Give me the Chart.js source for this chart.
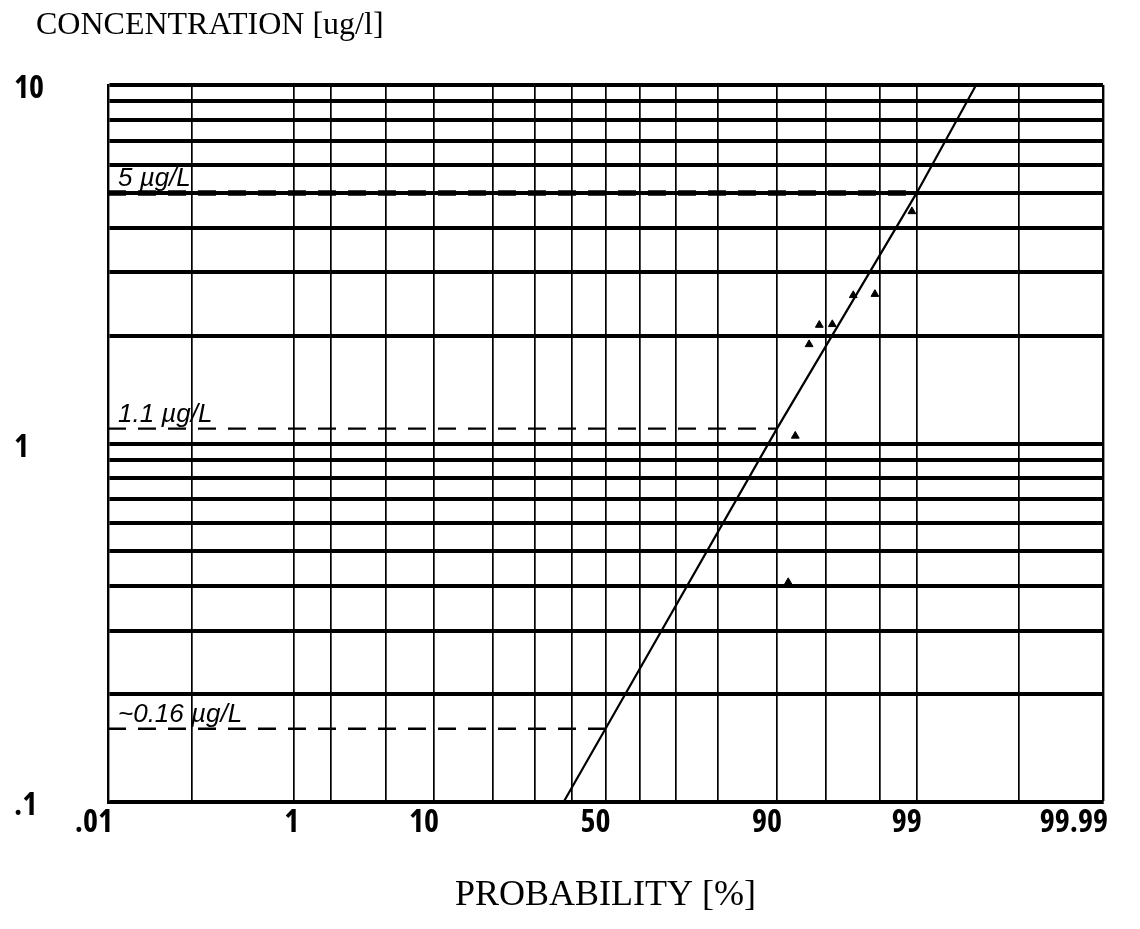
<!DOCTYPE html>
<html>
<head>
<meta charset="utf-8">
<title>Concentration probability plot</title>
<script src="https://cdn.jsdelivr.net/npm/chart.js@4.4.1/dist/chart.umd.min.js"></script>
<style>
  html, body { margin: 0; padding: 0; background: #fff; }
  #wrap { width: 1140px; height: 929px; position: relative; }
</style>
</head>
<body>
<div id="wrap"><canvas id="plot"></canvas></div>
<script>
// Probability grid (percent) drawn as vertical rulings
const probabilityGrid = [0.01, 0.1, 1, 2, 5, 10, 20, 30, 40, 50, 60, 70, 80, 90, 95, 98, 99, 99.9, 99.99];
// Probability values that carry a tick label, and their text
const probabilityTickValues = [0.01, 1, 10, 50, 90, 99, 99.99];
const probabilityTickText = ['.01', '1', '10', '50', '90', '99', '99.99'];

// Concentration grid (ug/l) drawn as horizontal rulings
const concentrationGrid = [0.1, 0.2, 0.3, 0.4, 0.5, 0.6, 0.7, 0.8, 0.9, 1, 2, 3, 4, 5, 6, 7, 8, 9, 10];
const concentrationTickValues = [0.1, 1, 10];
const concentrationTickText = ['.1', '1', '10'];

// Measured samples
const sampleProbability = [91.4, 92.2, 93.6, 94.5, 95.5, 96.8, 97.8, 98.9];
const sampleConcentration = [0.41, 1.05, 1.89, 2.14, 2.15, 2.59, 2.61, 4.44];

// Fitted log-normal line
const fitProbability = [37.7, 50, 90, 99, 99.72];
const fitConcentration = [0.1, 0.16, 1.1, 5, 10];

// Read-off levels
const levelProbability = [99, 90, 50];
const levelConcentration = [5, 1.1, 0.16];
const levelText = ['5 µg/L', '1.1 µg/L', '~0.16 µg/L'];

// Inverse standard normal CDF (Acklam), percent in -> z out
function probit(pct) {
  const p = pct / 100;
  const a = [-3.969683028665376e+01, 2.209460984245205e+02, -2.759285104469687e+02, 1.383577518672690e+02, -3.066479806614716e+01, 2.506628277459239e+00];
  const b = [-5.447609879822406e+01, 1.615858368580409e+02, -1.556989798598866e+02, 6.680131188771972e+01, -1.328068155288572e+01];
  const c = [-7.784894002430293e-03, -3.223964580411365e-01, -2.400758277161838e+00, -2.549732539343734e+00, 4.374664141464968e+00, 2.938163982698783e+00];
  const d = [7.784695709041462e-03, 3.224671290700398e-01, 2.445134137142996e+00, 3.754408661907416e+00];
  const pl = 0.02425, ph = 1 - pl;
  let q, r;
  if (p < pl) {
    q = Math.sqrt(-2 * Math.log(p));
    return (((((c[0]*q+c[1])*q+c[2])*q+c[3])*q+c[4])*q+c[5]) / ((((d[0]*q+d[1])*q+d[2])*q+d[3])*q+1);
  }
  if (p > ph) {
    q = Math.sqrt(-2 * Math.log(1 - p));
    return -(((((c[0]*q+c[1])*q+c[2])*q+c[3])*q+c[4])*q+c[5]) / ((((d[0]*q+d[1])*q+d[2])*q+d[3])*q+1);
  }
  q = p - 0.5; r = q * q;
  return (((((a[0]*r+a[1])*r+a[2])*r+a[3])*r+a[4])*r+a[5])*q / (((((b[0]*r+b[1])*r+b[2])*r+b[3])*r+b[4])*r+1);
}

const pairs = (ps, cs) => ps.map((p, i) => ({ x: probit(p), y: cs[i] }));

const levelDatasets = levelConcentration.map((c, i) => ({
  type: 'line',
  data: [{ x: probit(probabilityGrid[0]), y: c }, { x: probit(levelProbability[i]), y: c }],
  borderColor: '#000',
  borderWidth: i === 0 ? 5.5 : 2.4,
  borderDash: [18, 12],
  pointRadius: 0,
  fill: false
}));

// Narrow plotter-style lettering for the axis numbers
const plotterFont = '"Open Sans", "DejaVu Sans Condensed", "DejaVu Sans", sans-serif';
const plotterWeight = 'bold condensed';
const serifFont = '"Liberation Serif", "Times New Roman", serif';

// Handwritten level notes placed just above each read-off line
const levelNotes = {
  id: 'levelNotes',
  afterDatasetsDraw(chart) {
    const { ctx, scales: { x, y } } = chart;
    ctx.save();
    ctx.font = 'italic 26px "Liberation Sans", sans-serif';
    ctx.fillStyle = '#000';
    ctx.textAlign = 'left';
    ctx.textBaseline = 'alphabetic';
    levelConcentration.forEach((c, i) => {
      ctx.fillText(levelText[i], x.left + 10, y.getPixelForValue(c) - 7);
    });
    ctx.restore();
  }
};

new Chart(document.getElementById('plot'), {
  type: 'scatter',
  data: {
    datasets: [
      ...levelDatasets,
      {
        type: 'line',
        data: pairs(fitProbability, fitConcentration),
        borderColor: '#000',
        borderWidth: 2.2,
        pointRadius: 0,
        fill: false
      },
      {
        type: 'scatter',
        data: pairs(sampleProbability, sampleConcentration),
        pointStyle: 'triangle',
        pointRadius: 4.5,
        backgroundColor: '#000',
        borderColor: '#000',
        borderWidth: 1
      }
    ]
  },
  options: {
    responsive: true,
    maintainAspectRatio: false,
    animation: false,
    layout: { padding: { left: 36, right: 37, top: 0, bottom: 10 } },
    plugins: {
      legend: { display: false },
      tooltip: { enabled: false },
      title: {
        display: true,
        text: 'CONCENTRATION [ug/l]',
        align: 'start',
        color: '#000',
        font: { family: serifFont, size: 32, weight: 'normal' },
        padding: { top: 6, bottom: 40.6 }
      }
    },
    scales: {
      x: {
        type: 'linear',
        min: probit(probabilityGrid[0]),
        max: probit(probabilityGrid[probabilityGrid.length - 1]),
        afterBuildTicks(axis) {
          axis.ticks = probabilityGrid.map(p => ({ value: probit(p) }));
        },
        afterFit(axis) { axis.height = 117; },
        grid: {
          color: '#000',
          lineWidth: ctx => (ctx.index === probabilityGrid.length - 1 ? 2.4 : 1.7),
          drawTicks: false
        },
        border: { color: '#000', width: 3 },
        ticks: {
          autoSkip: false,
          maxRotation: 0,
          align: 'end',
          labelOffset: 5,
          padding: 2,
          color: '#000',
          font: { family: plotterFont, size: 32, weight: plotterWeight },
          callback: (value, index) => {
            const k = probabilityTickValues.indexOf(probabilityGrid[index]);
            return k >= 0 ? probabilityTickText[k] : '';
          }
        },
        title: {
          display: true,
          text: 'PROBABILITY [%]',
          color: '#000',
          font: { family: serifFont, size: 36, weight: 'normal' },
          padding: { top: 0, bottom: 2 }
        }
      },
      y: {
        type: 'logarithmic',
        min: concentrationGrid[0],
        max: concentrationGrid[concentrationGrid.length - 1],
        afterBuildTicks(axis) {
          axis.ticks = concentrationGrid.map(v => ({ value: v }));
        },
        afterFit(axis) { axis.width = 72; },
        grid: { color: '#000', lineWidth: 4, drawTicks: false },
        border: { color: '#000', width: 2.4 },
        ticks: {
          autoSkip: false,
          mirror: true,
          crossAlign: 'near',
          padding: -94,
          labelOffset: 4,
          color: '#000',
          font: { family: plotterFont, size: 32, weight: plotterWeight },
          callback: (value, index) => {
            const k = concentrationTickValues.indexOf(concentrationGrid[index]);
            return k >= 0 ? concentrationTickText[k] : '';
          }
        }
      }
    }
  },
  plugins: [levelNotes]
});
</script>
</body>
</html>
